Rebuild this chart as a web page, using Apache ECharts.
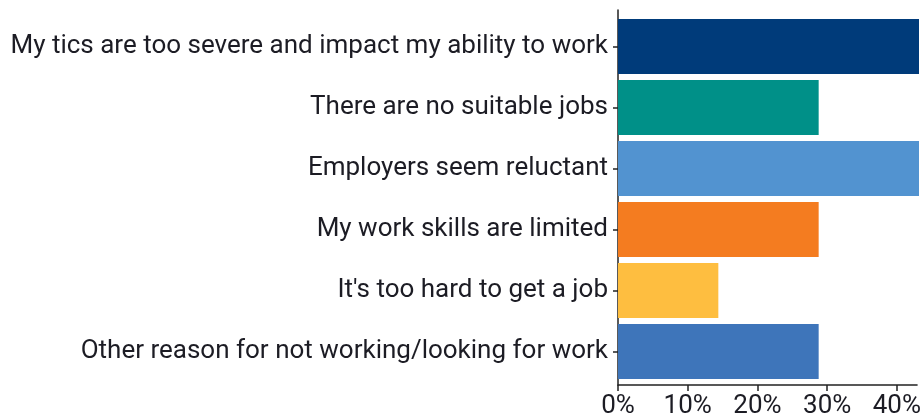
<!DOCTYPE html>
<html>
<head>
<meta charset="utf-8">
<script src="https://cdn.jsdelivr.net/npm/echarts@6/dist/echarts.min.js"></script>
<style>
  html, body { margin: 0; padding: 0; background: #fff; }
  #chart { width: 924px; height: 419px; }
</style>
</head>
<body>
<div id="chart"></div>
<script>
// Reasons for not working, share of respondents (%)
const categories = [
  'My tics are too severe and impact my ability to work',
  'There are no suitable jobs',
  'Employers seem reluctant',
  'My work skills are limited',
  "It's too hard to get a job",
  'Other reason for not working/looking for work'
];
const values = [42.9, 28.6, 42.9, 28.6, 14.3, 28.6];
const colors = ['#003B7A', '#009088', '#5293D0', '#F47C20', '#FEBE40', '#3E75BA'];
const xTicks = [0, 10, 20, 30, 40];

const FONT = 'Roboto';
const TEXT = '#1c1c24';
const AXIS = { color: '#222', width: 1.5 };
const xMax = Math.max(...values);

const chart = echarts.init(document.getElementById('chart'), null, { renderer: 'canvas' });
chart.setOption({
  animation: false,
  grid: [
    // bars: one 61px band per category
    { left: 618, right: 5, top: 16, bottom: 37, containLabel: false },
    // axis frame, a little larger than the bar area
    { left: 618, right: 5, top: 10, bottom: 31, containLabel: false }
  ],
  xAxis: [
    {
      gridIndex: 0, type: 'value', min: 0, max: xMax,
      show: false
    },
    {
      gridIndex: 1, type: 'value', min: 0, max: xMax,
      splitLine: { show: false },
      axisLine: { show: true, lineStyle: AXIS },
      axisTick: { show: true, length: 6, customValues: xTicks, lineStyle: AXIS },
      axisLabel: {
        customValues: xTicks,
        formatter: v => v + '%',
        fontFamily: FONT, fontSize: 26, color: TEXT, margin: 8
      }
    }
  ],
  yAxis: [
    {
      gridIndex: 0, type: 'category', inverse: true, data: categories,
      axisLine: { show: false },
      axisTick: { show: true, length: 5, alignWithLabel: true, lineStyle: AXIS },
      axisLabel: { fontFamily: FONT, fontSize: 26, color: TEXT, margin: 10 }
    },
    {
      gridIndex: 1, type: 'value', min: 0, max: 1,
      splitLine: { show: false },
      axisLine: { show: true, onZero: false, lineStyle: AXIS },
      axisTick: { show: false },
      axisLabel: { show: false }
    }
  ],
  series: [{
    type: 'bar',
    xAxisIndex: 0,
    yAxisIndex: 0,
    barWidth: 55,
    data: values.map((v, i) => ({ value: v, itemStyle: { color: colors[i] } }))
  }]
});
</script>
</body>
</html>
